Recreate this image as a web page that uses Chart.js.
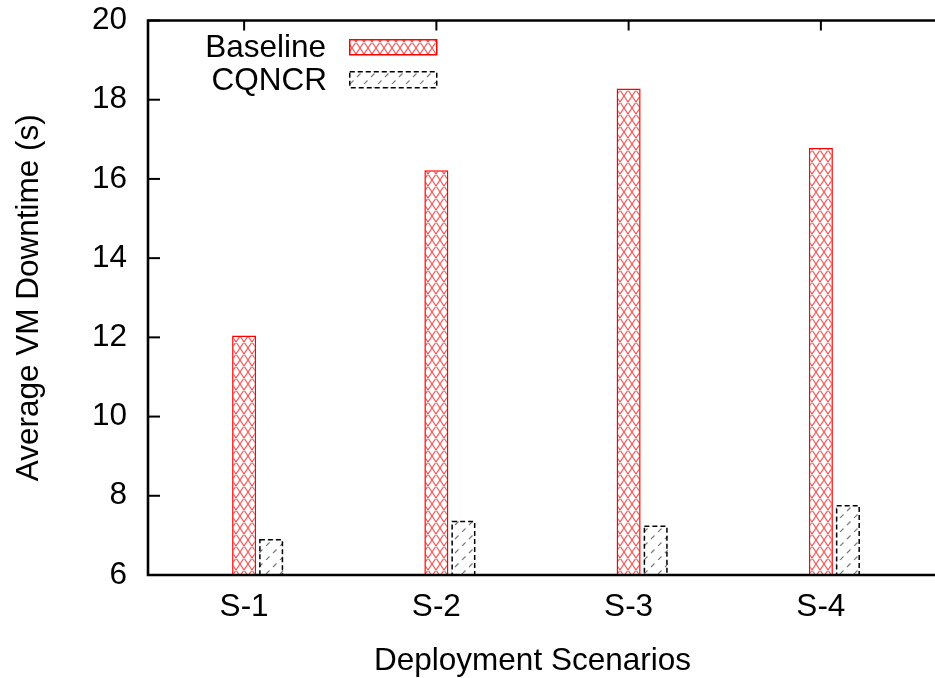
<!DOCTYPE html>
<html><head><meta charset="utf-8">
<script src="https://cdn.jsdelivr.net/npm/chart.js@4.4.0/dist/chart.umd.min.js"></script>
<style>html,body{margin:0;padding:0;background:#fff;}</style>
</head><body>
<canvas id="c" width="935" height="678"></canvas>
<script>
// ---- data ----
const categories = ['S-1', 'S-2', 'S-3', 'S-4'];
const baselineValues = [12.05, 16.22, 18.28, 16.78];
const cqncrValues = [6.91, 7.37, 7.25, 7.77];
const yTickValues = [6, 8, 10, 12, 14, 16, 18, 20];
const seriesNames = ['Baseline', 'CQNCR'];
const xTitle = 'Deployment Scenarios';
const yTitle = 'Average VM Downtime (s)';

const FONT = "'Liberation Sans', Arial, Helvetica, sans-serif";
const FS = 31.5;
const canvas = document.getElementById('c');
const mainCtx = canvas.getContext('2d');

function crossPattern() {
  const c = document.createElement('canvas'); c.width = 8; c.height = 12;
  const g = c.getContext('2d');
  g.fillStyle = '#fff'; g.fillRect(0, 0, 8, 12);
  g.strokeStyle = 'rgba(255,0,0,0.7)'; g.lineWidth = 1.1;
  g.beginPath();
  for (const dx of [-8, 0, 8]) {
    g.moveTo(dx, 0); g.lineTo(dx + 8, 12);
    g.moveTo(dx + 8, 0); g.lineTo(dx, 12);
  }
  g.stroke();
  return mainCtx.createPattern(c, 'repeat');
}
function hatchPattern() {
  const s = 14;
  const c = document.createElement('canvas'); c.width = s; c.height = s;
  const g = c.getContext('2d');
  g.fillStyle = '#fff'; g.fillRect(0, 0, s, s);
  g.strokeStyle = '#7a7a7a'; g.lineWidth = 1.2;
  const L = Math.sqrt(2) * s;
  g.setLineDash([L / 4, L / 4]);
  for (const dx of [-s, 0, s]) {
    g.beginPath(); g.moveTo(dx, s); g.lineTo(dx + s, 0); g.stroke();
  }
  return mainCtx.createPattern(c, 'repeat');
}
const crossPat = crossPattern();
const hatchPat = hatchPattern();

const decorPlugin = {
  id: 'decor',
  afterDatasetsDraw(chart) {
    const ctx = chart.ctx;
    const meta = chart.getDatasetMeta(2);
    const bottom = chart.chartArea.bottom;
    ctx.save();
    ctx.strokeStyle = '#000'; ctx.lineWidth = 1.5; ctx.setLineDash([5, 3]);
    meta.data.forEach(el => {
      const p = el.getProps(['x', 'y', 'base', 'width'], true);
      const base = Math.min(p.base, bottom);
      ctx.strokeRect(p.x - p.width / 2 + 0.75, p.y + 0.75, p.width - 1.5, base - p.y - 0.75);
    });
    ctx.restore();
  },
  afterDraw(chart) {
    const ctx = chart.ctx;
    const a = chart.chartArea;
    const W = chart.width;
    ctx.save();
    ctx.strokeStyle = '#000';
    ctx.lineWidth = 2.6;
    ctx.lineCap = 'square';
    ctx.beginPath();
    ctx.moveTo(W + 5, a.top); ctx.lineTo(a.left, a.top); ctx.lineTo(a.left, a.bottom); ctx.lineTo(W + 5, a.bottom);
    ctx.stroke();
    ctx.lineWidth = 2;
    ctx.lineCap = 'butt';
    const ys = chart.scales.y;
    ys.ticks.forEach((t, i) => {
      const py = ys.getPixelForTick(i);
      ctx.beginPath(); ctx.moveTo(a.left, py); ctx.lineTo(a.left + 12, py); ctx.stroke();
    });
    const xs = chart.scales.x;
    categories.forEach((c, i) => {
      const px = xs.getPixelForTick(i);
      ctx.beginPath(); ctx.moveTo(px, a.top); ctx.lineTo(px, a.top + 10); ctx.stroke();
    });
    // legend
    ctx.font = FS + 'px ' + FONT;
    ctx.fillStyle = '#000';
    ctx.textAlign = 'right';
    ctx.textBaseline = 'middle';
    ctx.fillText(seriesNames[0], 326, 48);
    ctx.fillText(seriesNames[1], 327, 81);
    ctx.fillStyle = crossPat;
    ctx.fillRect(349, 39, 88, 16);
    ctx.strokeStyle = '#ff0000'; ctx.lineWidth = 1.5;
    ctx.strokeRect(349.75, 39.75, 87, 15);
    ctx.fillStyle = hatchPat;
    ctx.fillRect(349, 71, 88, 17);
    ctx.strokeStyle = '#000'; ctx.setLineDash([5, 3]);
    ctx.strokeRect(349.75, 71.75, 87, 16);
    ctx.restore();
  }
};

new Chart(canvas, {
  type: 'bar',
  data: {
    labels: categories,
    datasets: [
      { label: '', data: categories.map(() => null), backgroundColor: 'rgba(0,0,0,0)' },
      { label: seriesNames[0], data: baselineValues, backgroundColor: crossPat, borderColor: '#ff0000', borderWidth: 1.5, borderSkipped: 'bottom' },
      { label: seriesNames[1], data: cqncrValues, backgroundColor: hatchPat, borderWidth: 0 }
    ]
  },
  options: {
    responsive: false,
    animation: false,
    events: [],
    categoryPercentage: 0.421875,
    barPercentage: 0.889,
    layout: { padding: { top: 20.5, right: 18, left: 0, bottom: 0 } },
    plugins: { legend: { display: false }, tooltip: { enabled: false } },
    scales: {
      x: {
        type: 'category',
        offset: true,
        grid: { display: false, drawTicks: false },
        border: { display: false },
        ticks: { color: '#000', font: { family: FONT, size: FS }, padding: 13, maxRotation: 0 },
        title: { display: true, text: xTitle, color: '#000', font: { family: FONT, size: FS, lineHeight: 1 }, padding: { top: 0, bottom: 1 } },
        afterFit: s => { s.height = 103; s.paddingLeft = 0; s.paddingRight = 0; }
      },
      y: {
        min: 6, max: 20,
        afterBuildTicks: s => { s.ticks = yTickValues.map(v => ({ value: v })); },
        grid: { display: false, drawTicks: false },
        border: { display: false },
        ticks: { color: '#000', font: { family: FONT, size: FS }, padding: 21 },
        title: { display: true, text: yTitle, color: '#000', font: { family: FONT, size: FS, lineHeight: 1 }, padding: { top: 14, bottom: 0 } },
        afterFit: s => { s.width = 148; s.paddingTop = 0; s.paddingBottom = 0; }
      }
    }
  },
  plugins: [decorPlugin]
});
</script>
</body></html>
